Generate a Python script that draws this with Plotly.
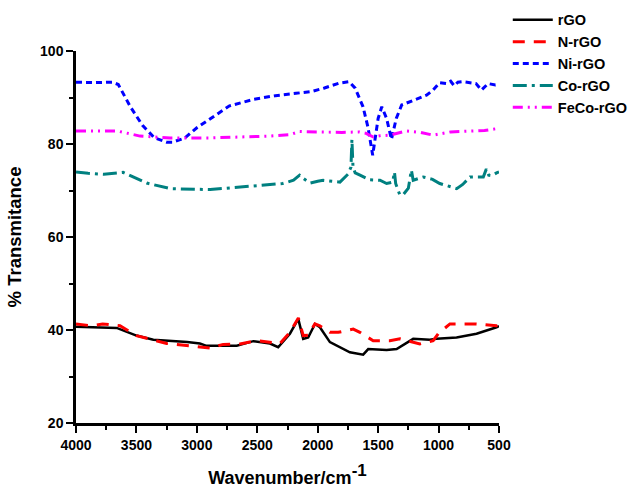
import plotly.graph_objects as go

# ---- data ----
rgo_x = [4000, 3800, 3663, 3500, 3360, 3080, 2975, 2920, 2670, 2533, 2395, 2327, 2230, 2161, 2120, 2079, 2023, 1982, 1899, 1734, 1624, 1582, 1430, 1347, 1210, 1072, 1017, 851, 686, 520, 500]
rgo_y = [40.7, 40.6, 40.45, 38.8, 37.9, 37.4, 37.1, 36.6, 36.6, 37.6, 37.1, 36.3, 39.2, 42.4, 38.1, 38.4, 41.3, 40.6, 37.4, 35.2, 34.7, 35.9, 35.7, 35.9, 38.1, 37.9, 38.1, 38.4, 39.2, 40.6, 40.8]

nrgo_x = [4000, 3870, 3780, 3636, 3500, 3250, 3057, 2892, 2782, 2643, 2505, 2395, 2313, 2230, 2160, 2120, 2079, 2023, 1982, 1899, 1830, 1706, 1651, 1541, 1403, 1320, 1210, 1155, 1045, 1003, 906, 686, 520, 500]
nrgo_y = [41.3, 40.9, 41.3, 40.9, 38.8, 37.1, 36.6, 36.1, 36.9, 37.0, 37.7, 37.4, 37.1, 39.5, 42.6, 38.8, 38.9, 41.3, 40.9, 39.5, 39.5, 40.2, 39.5, 37.7, 37.7, 38.1, 37.4, 37.0, 37.7, 39.2, 41.3, 41.3, 40.9, 41.0]

ni_x = [4000, 3850, 3700, 3650, 3550, 3450, 3350, 3250, 3200, 3100, 3000, 2870, 2730, 2530, 2350, 2180, 2050, 1950, 1820, 1740, 1690, 1625, 1585, 1545, 1500, 1470, 1430, 1390, 1350, 1305, 1240, 1100, 1045, 990, 935, 900, 870, 840, 800, 690, 645, 590, 530, 500]
ni_y = [93.3, 93.2, 93.3, 92.8, 88.0, 84.0, 81.3, 80.4, 80.4, 81.3, 83.5, 85.8, 88.2, 89.6, 90.4, 90.9, 91.3, 92.0, 93.1, 93.4, 92.0, 88.0, 83.7, 77.6, 85.5, 88.0, 85.5, 81.0, 85.5, 88.4, 89.1, 90.5, 91.6, 93.2, 93.0, 93.5, 92.5, 93.3, 93.4, 93.0, 91.6, 93.0, 92.7, 92.8]

co_x = [4000, 3900, 3770, 3610, 3415, 3220, 2890, 2700, 2530, 2290, 2200, 2150, 2120, 2064, 2000, 1955, 1816, 1750, 1725, 1717, 1708, 1690, 1650, 1570, 1485, 1430, 1380, 1365, 1355, 1320, 1290, 1250, 1225, 1210, 1127, 1050, 990, 850, 800, 740, 630, 605, 585, 560, 520, 500]
co_y = [74.0, 73.7, 73.5, 73.9, 71.6, 70.4, 70.2, 70.6, 71.1, 71.5, 72.2, 73.3, 72.6, 71.6, 72.0, 72.2, 71.8, 73.5, 75.0, 81.0, 75.0, 73.8, 73.3, 72.3, 72.2, 71.5, 71.8, 74.0, 71.5, 69.0, 69.2, 70.5, 74.4, 72.2, 72.9, 72.4, 71.5, 70.4, 71.3, 72.9, 72.9, 74.6, 73.3, 73.2, 73.8, 74.0]

feco_x = [4000, 3660, 3470, 3220, 2900, 2600, 2400, 2230, 2150, 2000, 1800, 1660, 1600, 1540, 1480, 1400, 1270, 1150, 1045, 900, 770, 620, 520, 500]
feco_y = [82.8, 82.8, 81.7, 81.3, 81.3, 81.5, 81.7, 82.0, 82.7, 82.6, 82.5, 82.6, 82.3, 81.5, 81.8, 81.9, 82.8, 82.5, 81.9, 82.6, 82.8, 82.9, 83.3, 83.3]

x_ticks = [4000, 3500, 3000, 2500, 2000, 1500, 1000, 500]
y_ticks = [20, 40, 60, 80, 100]

FONT = "Liberation Sans"

series = [
    ("rGO", rgo_x, rgo_y, "#000000", "solid", 2.5),
    ("N-rGO", nrgo_x, nrgo_y, "#FF0000", "12px,9px", 3),
    ("Ni-rGO", ni_x, ni_y, "#0000FF", "6px,4px", 3),
    ("Co-rGO", co_x, co_y, "#008080", "14px,5px,3px,5px", 3),
    ("FeCo-rGO", feco_x, feco_y, "#FF00FF", "10px,5px,2px,5px,2px,5px", 3),
]

fig = go.Figure()
for name, xs, ys, col, dash, w in series:
    fig.add_trace(go.Scatter(x=xs, y=ys, mode="lines", name=name,
                             line=dict(color=col, dash=dash, width=w)))

axis_font = dict(family=FONT, size=14, color="black", weight="bold")
title_font = dict(family=FONT, size=18, color="black", weight="bold")
fig.update_xaxes(range=[4000, 500], tickvals=x_ticks, ticktext=[str(v) for v in x_ticks],
                 showgrid=False, zeroline=False, showline=True, linecolor="black", linewidth=2.5,
                 ticks="outside", ticklen=7, tickwidth=2, tickcolor="black",
                 minor=dict(ticks="outside", ticklen=4, tickwidth=2, tickcolor="black", dtick=250, tick0=500, showgrid=False),
                 tickfont=axis_font, automargin=False,
                 title=dict(text="Wavenumber/cm<sup><span style='font-size:17px'>-1</span></sup>", font=title_font, standoff=20))
fig.update_yaxes(range=[20, 100], tickvals=y_ticks, ticktext=[str(v) for v in y_ticks],
                 showgrid=False, zeroline=False, showline=True, linecolor="black", linewidth=2.5,
                 ticks="outside", ticklen=7, tickwidth=2, tickcolor="black",
                 minor=dict(ticks="outside", ticklen=4, tickwidth=2, tickcolor="black", dtick=10, tick0=0, showgrid=False),
                 tickfont=axis_font, automargin=False,
                 title=dict(text="% Transmitance", font=dict(title_font, size=18.5), standoff=14))

fig.update_layout(
    width=630, height=488,
    margin=dict(l=76, r=131, t=51, b=65),
    paper_bgcolor="white", plot_bgcolor="white",
    showlegend=True,
    legend=dict(xref="container", yref="container", x=0.806, y=0.992, xanchor="left", yanchor="top",
                font=dict(family=FONT, size=14.5, color="black", weight="bold"),
                bgcolor="rgba(0,0,0,0)", tracegroupgap=0, itemwidth=40),
)

fig.write_html("out.html")
